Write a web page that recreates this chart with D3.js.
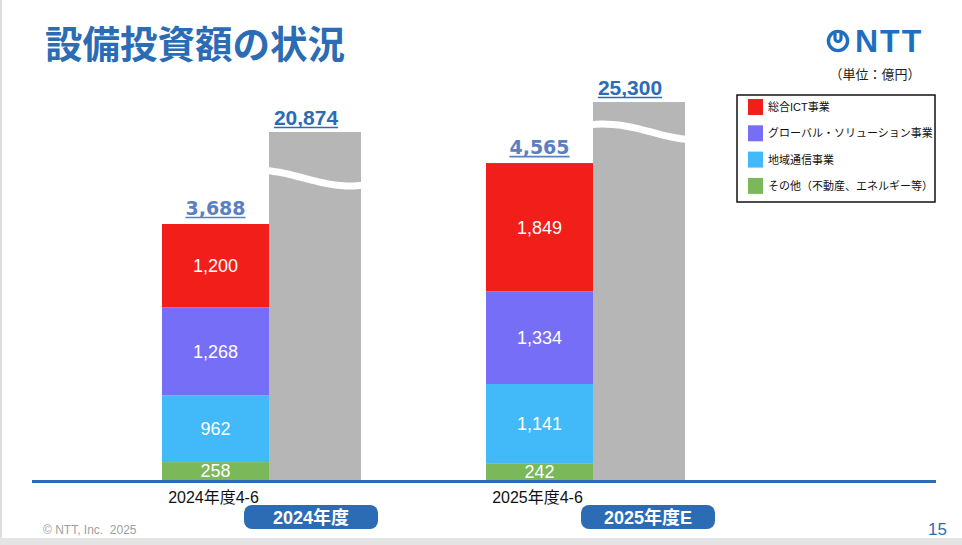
<!DOCTYPE html>
<html>
<head>
<meta charset="utf-8">
<script src="https://cdn.jsdelivr.net/npm/d3@7"></script>
<style>
  body { margin: 0; background: #fff; }
  svg { display: block; }
</style>
</head>
<body>
<svg id="chart"></svg>
<script>
// chart values
const categories = ["2024年度4-6", "2025年度4-6"];
const seriesNames = ["総合ICT事業", "グローバル・ソリューション事業", "地域通信事業", "その他（不動産、エネルギー等）"];
const ictValues = [1200, 1849];
const globalValues = [1268, 1334];
const regionalValues = [962, 1141];
const otherValues = [258, 242];
const quarterTotals = [3688, 4565];
const fiscalYearLabels = ["2024年度", "2025年度E"];
const fiscalYearTotals = [20874, 25300];

const width = 962;
const height = 545;
const baseY = 480;

const seriesKeys = ["ict", "global", "regional", "other"];
const seriesColors = ["#f21e1a", "#766ef7", "#42b9f8", "#7ab85a"];
const blue = "#2b6cb4";
const jpFont = "'Liberation Sans', 'Noto Sans CJK JP', sans-serif";

const svg = d3.select("#chart")
    .attr("width", width)
    .attr("height", height);

// page frame: thin grey strip on the left and at the bottom
svg.append("rect").attr("x", 0).attr("y", 0).attr("width", 2).attr("height", height).attr("fill", "#dedede");
svg.append("rect").attr("x", 0).attr("y", 538).attr("width", width).attr("height", 7).attr("fill", "#e4e4e4");

// title
svg.append("text")
    .attr("x", 45).attr("y", 58)
    .attr("font-family", "'Noto Sans CJK JP', sans-serif")
    .attr("font-weight", 700)
    .attr("font-size", 37.5)
    .attr("fill", blue)
    .text("設備投資額の状況");

// NTT logo
const logo = svg.append("g").attr("transform", "translate(838,41)");
logo.append("circle").attr("r", 9.6).attr("fill", "none").attr("stroke", "#1e6fc1").attr("stroke-width", 3.4);
logo.append("path")
    .attr("d", "M-3,-9 V-2.4 A3,3 0 0 0 3,-2.4 V-9")
    .attr("fill", "none").attr("stroke", "#1e6fc1").attr("stroke-width", 3.2);
svg.append("text")
    .attr("x", 855).attr("y", 52)
    .attr("font-family", "'Liberation Sans', sans-serif")
    .attr("font-weight", 700)
    .attr("font-size", 32)
    .attr("letter-spacing", 2)
    .attr("fill", "#1e6fc1")
    .text("NTT");

svg.append("text")
    .attr("x", 875).attr("y", 79)
    .attr("text-anchor", "middle")
    .attr("font-family", "'Noto Sans CJK JP', sans-serif")
    .attr("font-size", 13)
    .attr("fill", "#222")
    .text("（単位：億円）");

// scales
const x = d3.scaleBand().domain(categories).range([162, 810]);
const stackW = 107;
const grayW = 92;
const y = d3.scaleLinear().domain([0, 5000]).range([baseY, baseY - 5000 * 256 / 3688]);
// broken scale for the full-year bars
const yFy = d3.scaleLinear().domain([0, 20000, 26000]).range([baseY, 137.9, 97.3]);

const rows = categories.map((c, i) => ({
    cat: c,
    ict: ictValues[i],
    global: globalValues[i],
    regional: regionalValues[i],
    other: otherValues[i]
}));

const stack = d3.stack().keys(["other", "regional", "global", "ict"]);
const layers = stack(rows);

// full-year grey bars
const grayX = c => x(c) + stackW;
svg.selectAll(".fy-bar")
    .data(categories)
    .join("rect")
    .attr("class", "fy-bar")
    .attr("x", d => grayX(d))
    .attr("y", (d, i) => yFy(fiscalYearTotals[i]))
    .attr("width", grayW)
    .attr("height", (d, i) => baseY - yFy(fiscalYearTotals[i]))
    .attr("fill", "#b6b6b6");

// wavy white break across each grey bar
const breakDrop = [46, 30];
const breakPhase = [0, 0.25];
const waveLine = d3.line().curve(d3.curveBasis);
categories.forEach((c, i) => {
    const x0 = grayX(c) - 13;
    const x1 = grayX(c) + grayW + 4;
    const yc = yFy(fiscalYearTotals[i]) + breakDrop[i];
    const pts = d3.range(0, 1.0001, 0.05).map(t => [
        x0 + t * (x1 - x0),
        yc - 8 * Math.cos(Math.PI * (1.15 * t - breakPhase[i]))
    ]);
    svg.append("path")
        .attr("d", waveLine(pts))
        .attr("fill", "none")
        .attr("stroke", "#fff")
        .attr("stroke-width", 7);
});

// stacked quarter bars
const colorOf = d3.scaleOrdinal().domain(seriesKeys).range(seriesColors);
const layerG = svg.selectAll(".layer")
    .data(layers)
    .join("g")
    .attr("class", "layer")
    .attr("fill", d => colorOf(d.key));

layerG.selectAll("rect")
    .data(d => d)
    .join("rect")
    .attr("x", d => x(d.data.cat))
    .attr("y", d => y(d[1]))
    .attr("width", stackW)
    .attr("height", d => y(d[0]) - y(d[1]));

layerG.selectAll("text")
    .data(d => d)
    .join("text")
    .attr("x", d => x(d.data.cat) + stackW / 2)
    .attr("y", d => (y(d[0]) + y(d[1])) / 2 + 6.3)
    .attr("text-anchor", "middle")
    .attr("font-family", "'Liberation Sans', sans-serif")
    .attr("font-size", 18)
    .attr("fill", "#fff")
    .text(d => d3.format(",")(d[1] - d[0]));

// underlined totals
function underlined(tx, ty, label, color, family, size) {
    const t = svg.append("text")
        .attr("x", tx).attr("y", ty)
        .attr("text-anchor", "middle")
        .attr("font-family", family)
        .attr("font-weight", 700)
        .attr("font-size", size)
        .attr("fill", color)
        .text(label);
    const w = t.node().getComputedTextLength();
    svg.append("line")
        .attr("x1", tx - w / 2).attr("x2", tx + w / 2)
        .attr("y1", ty + 2.5).attr("y2", ty + 2.5)
        .attr("stroke", color)
        .attr("stroke-width", 1.6);
}

categories.forEach((c, i) => {
    underlined(x(c) + stackW / 2, y(quarterTotals[i]) - 9, d3.format(",")(quarterTotals[i]),
        "#5b80c2", "'DejaVu Sans', sans-serif", 19);
    underlined(grayX(c) + grayW / 2 - 9, yFy(fiscalYearTotals[i]) - 7, d3.format(",")(fiscalYearTotals[i]),
        blue, "'Liberation Sans', sans-serif", 21);
});

// baseline
svg.append("line")
    .attr("x1", 32).attr("x2", 936)
    .attr("y1", baseY + 1.5).attr("y2", baseY + 1.5)
    .attr("stroke", blue)
    .attr("stroke-width", 3);

// category labels under stacked bars
svg.selectAll(".cat-label")
    .data(categories)
    .join("text")
    .attr("class", "cat-label")
    .attr("x", d => x(d) + stackW / 2 - 2)
    .attr("y", 503)
    .attr("text-anchor", "middle")
    .attr("font-family", jpFont)
    .attr("font-size", 16)
    .attr("fill", "#111")
    .text(d => d);

// full-year pills
const pillW = 134;
const pillShift = [-4, 9];
const pills = svg.selectAll(".pill")
    .data(categories)
    .join("g")
    .attr("class", "pill")
    .attr("transform", (d, i) => `translate(${grayX(d) + grayW / 2 + pillShift[i]},517)`);
pills.append("rect")
    .attr("x", -pillW / 2).attr("y", -12)
    .attr("width", pillW).attr("height", 24)
    .attr("rx", 8)
    .attr("fill", blue);
pills.append("text")
    .attr("y", 6.5)
    .attr("text-anchor", "middle")
    .attr("font-family", jpFont)
    .attr("font-weight", 700)
    .attr("font-size", 18)
    .attr("fill", "#fff")
    .text((d, i) => fiscalYearLabels[i]);

// legend
const legend = svg.append("g").attr("transform", "translate(737,95)");
legend.append("rect")
    .attr("width", 198).attr("height", 107)
    .attr("fill", "#fff")
    .attr("stroke", "#111")
    .attr("stroke-width", 1.5);
const items = legend.selectAll(".item")
    .data(seriesNames)
    .join("g")
    .attr("class", "item")
    .attr("transform", (d, i) => `translate(11,${4 + i * 26.3})`);
items.append("rect")
    .attr("width", 15).attr("height", 16)
    .attr("fill", (d, i) => seriesColors[i]);
items.append("text")
    .attr("x", 20).attr("y", 12)
    .attr("font-family", jpFont)
    .attr("font-size", 11)
    .attr("fill", "#111")
    .text(d => d);

// footer
svg.append("text")
    .attr("x", 43).attr("y", 534)
    .attr("font-family", "'Liberation Sans', sans-serif")
    .attr("font-size", 12)
    .attr("fill", "#a0a0a0")
    .attr("xml:space", "preserve")
    .text("© NTT, Inc.  2025");
svg.append("text")
    .attr("x", 947).attr("y", 535)
    .attr("text-anchor", "end")
    .attr("font-family", "'Liberation Sans', sans-serif")
    .attr("font-size", 17)
    .attr("fill", blue)
    .text("15");
</script>
</body>
</html>
